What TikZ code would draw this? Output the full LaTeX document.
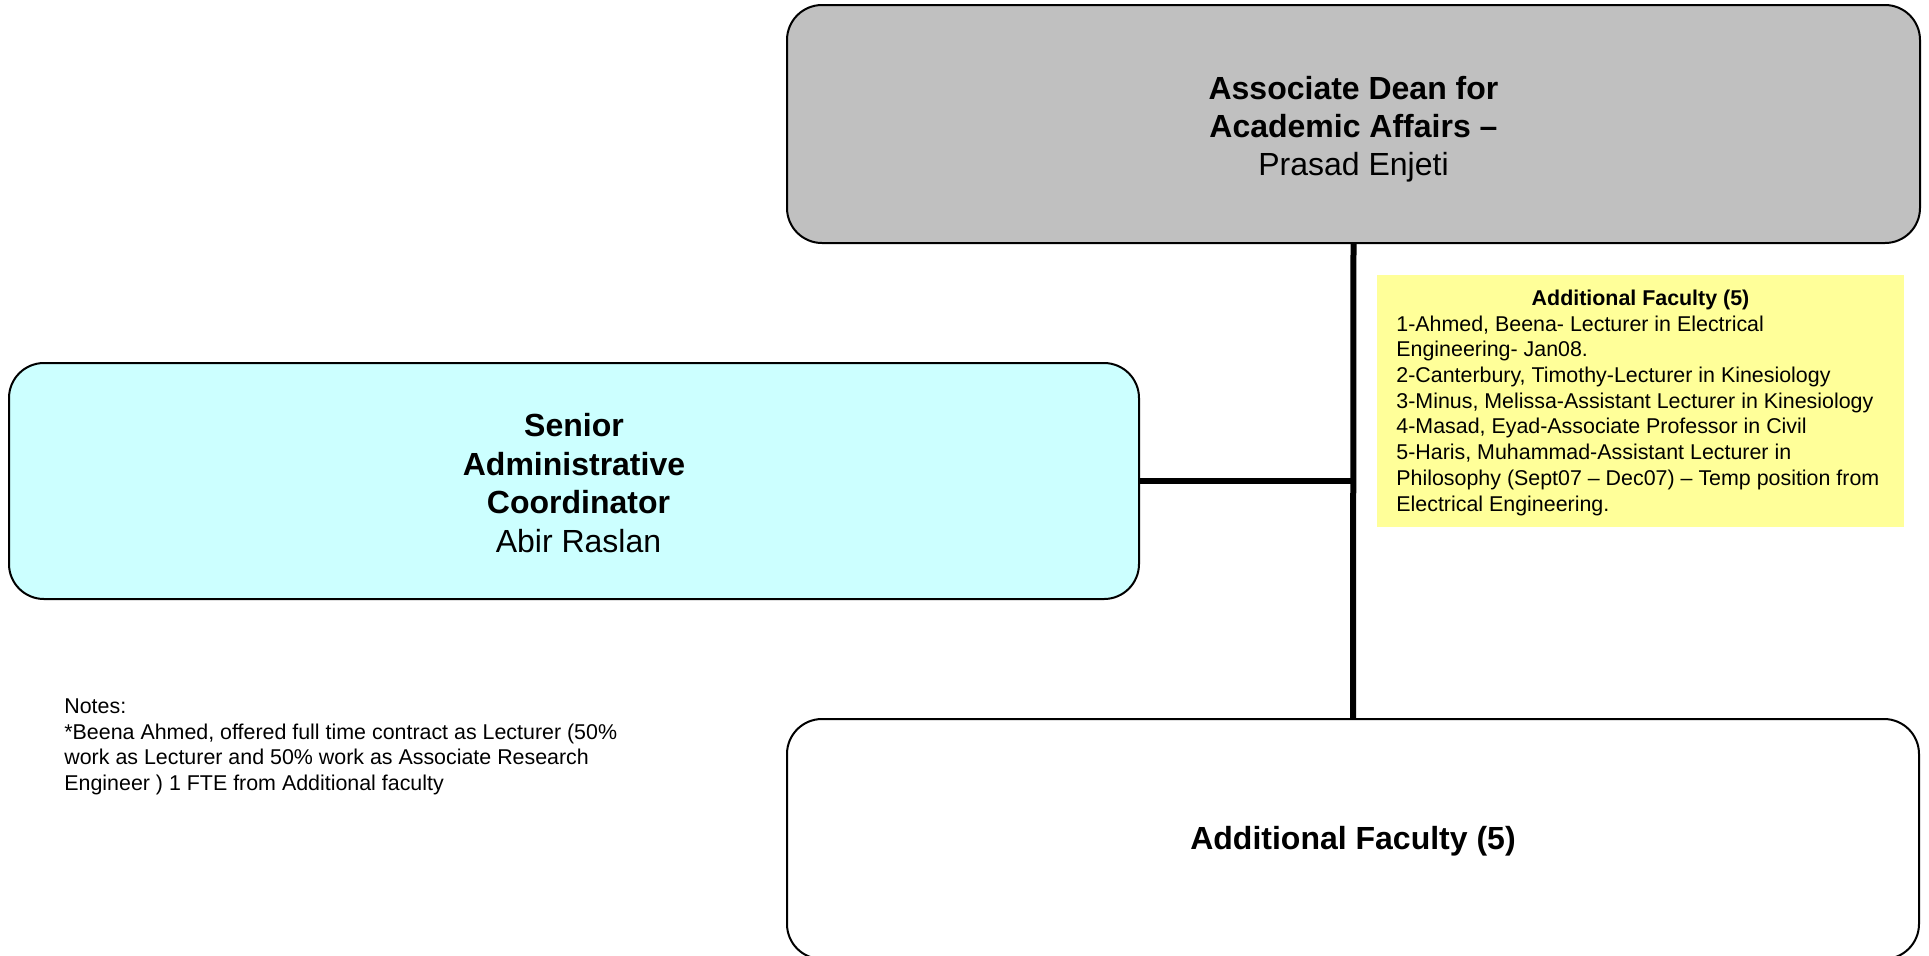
\documentclass[tikz,border=0pt]{standalone}
\usepackage{fontspec}
\setmainfont{Liberation Sans}
\definecolor{deangrey}{HTML}{C0C0C0}
\definecolor{coordcyan}{HTML}{CCFFFF}
\definecolor{noteyellow}{HTML}{FFFF99}
\begin{document}
\begin{tikzpicture}[x=0.5pt,y=-0.5pt]
\useasboundingbox (0,0) rectangle (1929,955);
\tikzset{
  orgbox/.style={draw=black, line width=1pt, rounded corners=17.5pt, inner sep=0pt, outer sep=0pt},
  bigtext/.style={inner sep=0pt, align=center, font=\fontsize{16}{19.1}\selectfont},
  smalltext/.style={font=\fontsize{10.7}{12.85}\selectfont, inner sep=0pt, align=left},
  link/.style={line width=3pt}
}
% boxes
\node[orgbox, fill=deangrey, minimum width=566.5pt, minimum height=119pt] (dean) at (1353.5,124) {};
\node[bigtext] (deantext) at (1353.5,129)
  {\textbf{Associate Dean for}\\\textbf{Academic Affairs –}\\Prasad Enjeti};
\node[orgbox, fill=coordcyan, minimum width=565pt, minimum height=118pt] (coord) at (574,481) {};
\node[bigtext, font=\fontsize{16}{19.3}\selectfont] (coordtext) at (574,483)
  {\textbf{Senior}\\\textbf{Administrative}\\\hspace*{0.28em}\textbf{Coordinator}\\\hspace*{0.28em}Abir Raslan};
\node[orgbox, fill=white, minimum width=566pt, minimum height=120pt] (extra) at (1353,839) {};
\node[bigtext] (extratext) at (1353,841.5) {\textbf{Additional Faculty (5)}};
% yellow list
\node[fill=noteyellow, inner sep=0pt, minimum width=263.5pt, minimum height=126pt] (ylist) at (1640.5,401) {};
\node[smalltext, anchor=base, font=\fontsize{10.7}{12.85}\selectfont\bfseries] (ytitle) at (1640.5,305.7) {Additional Faculty (5)};
\node[smalltext, anchor=base west] (ybody) at (1396,511)
  {1-Ahmed, Beena- Lecturer in Electrical\\
   Engineering- Jan08.\\
   2-Canterbury, Timothy-Lecturer in Kinesiology\\
   3-Minus, Melissa-Assistant Lecturer in Kinesiology\\
   4-Masad, Eyad-Associate Professor in Civil\\
   5-Haris, Muhammad-Assistant Lecturer in\\
   Philosophy (Sept07 – Dec07) – Temp position from\\
   Electrical Engineering.};
% notes
\node[smalltext, anchor=base west, font=\fontsize{10.7}{12.7}\selectfont] (notes) at (64,790)
  {Notes:\\
   *Beena Ahmed, offered full time contract as Lecturer (50\%\\
   work as Lecturer and 50\% work as Associate Research\\
   Engineer ) 1 FTE from Additional faculty};
% connectors
\draw[link] (dean.south) -- (extra.north);
\draw[link] (coord.east) -- (coord.east -| dean.south);
\end{tikzpicture}
\end{document}
